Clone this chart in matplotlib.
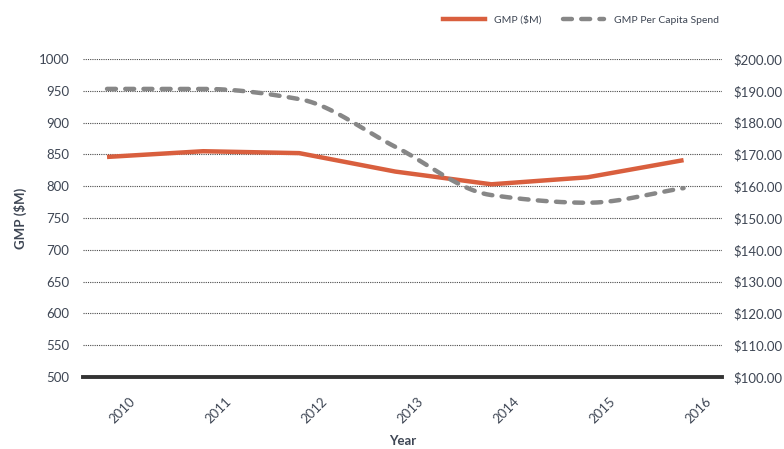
import numpy as np
import matplotlib
matplotlib.use("Agg")
import matplotlib.pyplot as plt
from matplotlib.lines import Line2D

plt.rcParams['font.family'] = ['Lato', 'DejaVu Sans']

years = ['2010', '2011', '2012', '2013', '2014', '2015', '2016']
gmp = [846, 855, 852, 823, 803, 814, 841]
per_capita = [190.6, 190.6, 187.4, 172.4, 157.2, 154.8, 159.4]

left_ticks = list(range(500, 1001, 50))
right_ticks = list(range(100, 201, 10))

RED = '#d95f3e'
GREY = '#878787'
TEXT = '#3e4654'
DASH = (0, (2.0, 2.1))


def monotone_curve(x, y, n=40):
    """Fritsch-Carlson monotone cubic through the given points."""
    x = np.asarray(x, float)
    y = np.asarray(y, float)
    h = np.diff(x)
    d = np.diff(y) / h
    m = np.zeros_like(y)
    m[0], m[-1] = d[0], d[-1]
    for i in range(1, len(y) - 1):
        if d[i - 1] * d[i] <= 0:
            m[i] = 0.0
        else:
            w1 = 2 * h[i] + h[i - 1]
            w2 = h[i] + 2 * h[i - 1]
            m[i] = (w1 + w2) / (w1 / d[i - 1] + w2 / d[i])
    xs, ys = [], []
    for i in range(len(x) - 1):
        t = np.linspace(0, 1, n, endpoint=(i == len(x) - 2))
        h00 = 2 * t**3 - 3 * t**2 + 1
        h10 = t**3 - 2 * t**2 + t
        h01 = -2 * t**3 + 3 * t**2
        h11 = t**3 - t**2
        xs.append(x[i] + t * h[i])
        ys.append(h00 * y[i] + h10 * h[i] * m[i] + h01 * y[i + 1] + h11 * h[i] * m[i + 1])
    return np.concatenate(xs), np.concatenate(ys)


fig = plt.figure(figsize=(7.84, 4.49), dpi=100)
ax = fig.add_axes([83 / 784, 1 - 377 / 449, (722 - 83) / 784, (377 - 59) / 449])
ax2 = ax.twinx()

xpos = np.arange(len(years))

# Grid
for v in left_ticks[1:]:
    ax.axhline(v, color='#4a4a4a', lw=0.8, ls=(0, (1, 1)), zorder=0)

# GMP line
ax.plot(xpos, gmp, color=RED, lw=3.2, solid_capstyle='butt', solid_joinstyle='round', zorder=3)

# Per-capita line (smoothed)
sx, sy = monotone_curve(xpos, per_capita)
ax2.plot(sx, sy, color=GREY, lw=3.2, ls=DASH, dash_capstyle='round', zorder=3)

ax.set_xlim(-0.25, 6.4)
ax.set_ylim(500, 1000)
ax2.set_ylim(100, 200)

ax.set_yticks(left_ticks)
ax.set_yticklabels([str(v) for v in left_ticks])
ax2.set_yticks(right_ticks)
ax2.set_yticklabels([f'${v:.2f}' for v in right_ticks])

ax.set_xticks(xpos)
ax.set_xticklabels(years, rotation=45, ha='left', va='top')

for a in (ax, ax2):
    for s in a.spines.values():
        s.set_visible(False)
    a.tick_params(length=0, labelsize=9.5, labelcolor=TEXT)
ax.tick_params(axis='y', pad=10)
ax2.tick_params(axis='y', pad=8)
ax.tick_params(axis='x', pad=13)

ax.axhline(500, color='#333333', lw=2.8, zorder=4, clip_on=False)

ax.set_ylabel('GMP ($M)', fontsize=9.5, fontweight='bold', color=TEXT, labelpad=8)
ax.set_xlabel('Year', fontsize=9.5, fontweight='bold', color=TEXT, labelpad=7)

handles = [
    Line2D([], [], color=RED, lw=3.2),
    Line2D([], [], color=GREY, lw=3.2, ls=DASH, dash_capstyle='round'),
]
leg = fig.legend(handles, ['GMP ($M)', 'GMP Per Capita Spend'], loc='center',
                 bbox_to_anchor=(581 / 784, 1 - 20 / 449), ncol=2, frameon=False,
                 fontsize=7.5, handlelength=4.0, columnspacing=2.0, handletextpad=0.9)
for t in leg.get_texts():
    t.set_color(TEXT)

fig.savefig('out.png', dpi=100)
